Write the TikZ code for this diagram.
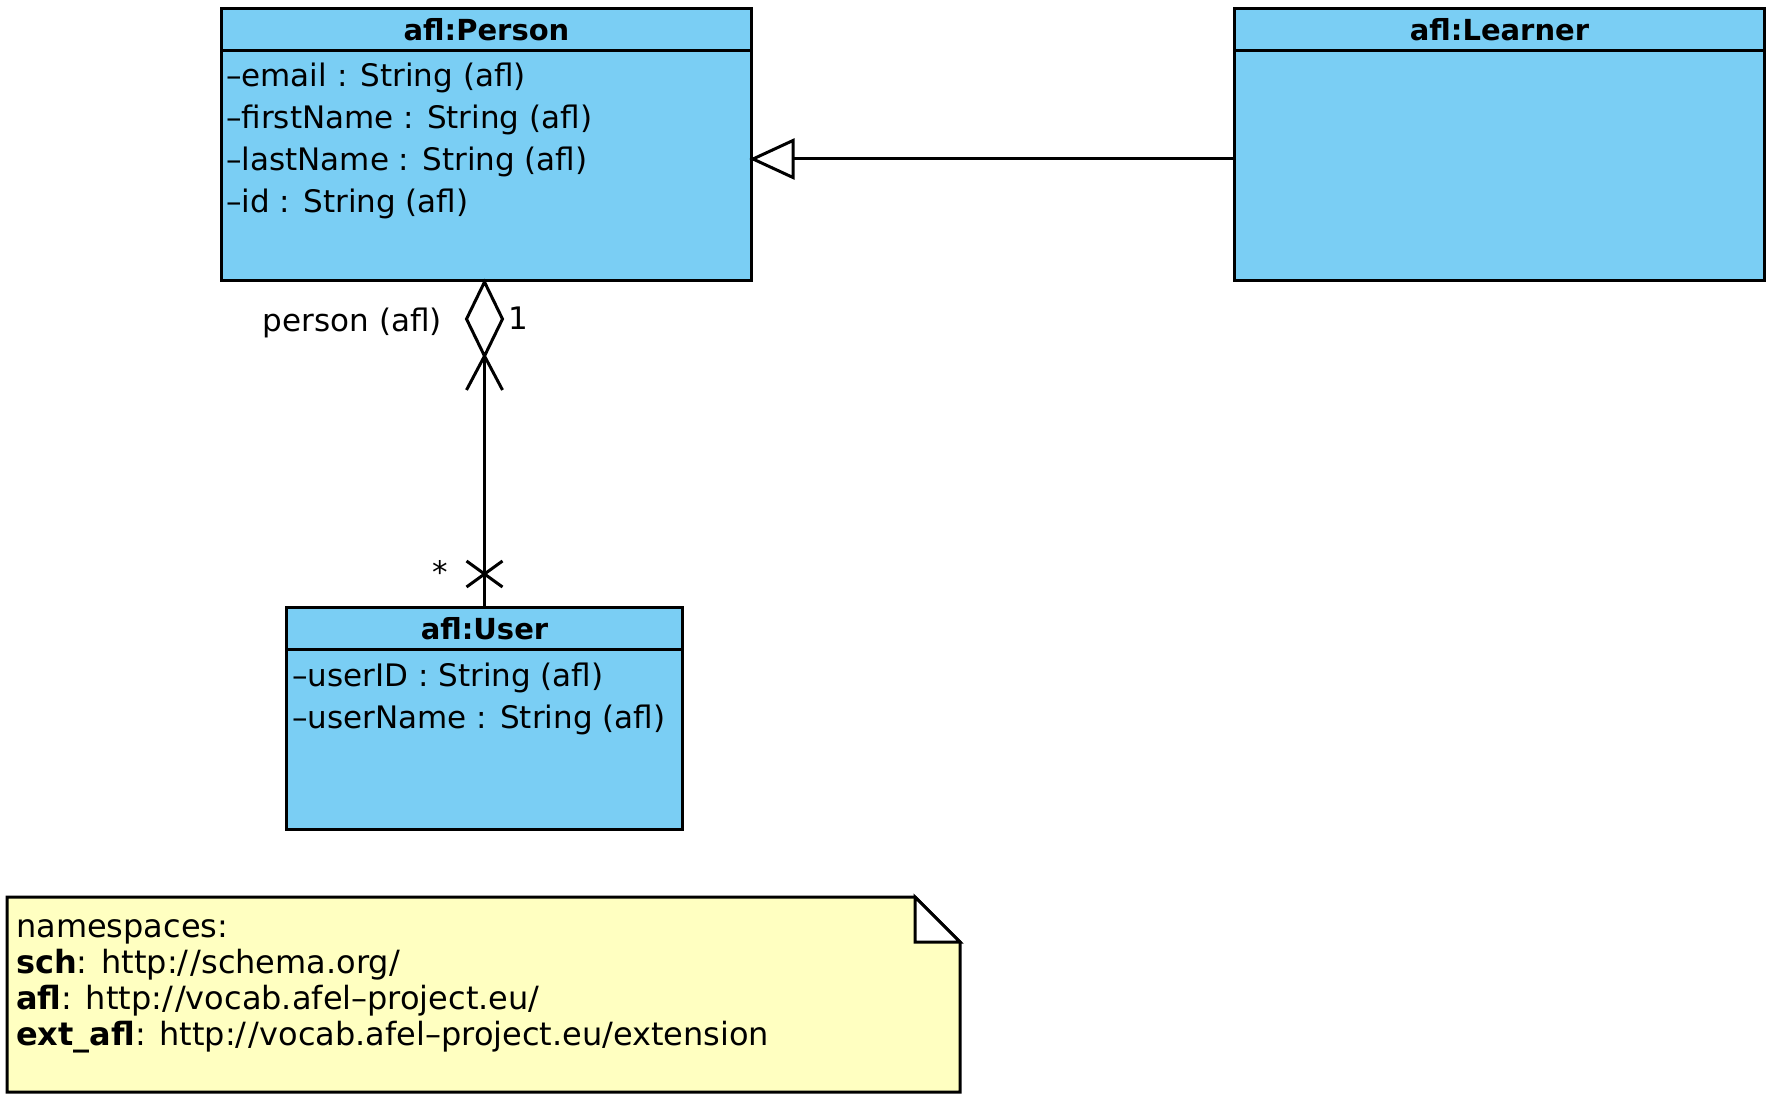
\documentclass[tikz,border=0pt]{standalone}
\usepackage{fontspec}
\setmainfont{DejaVu Sans}
\usepackage{xcolor}
\definecolor{umlClass}{HTML}{7ACEF4}
\definecolor{umlNote}{HTML}{FFFFC1}

\begin{document}
\begin{tikzpicture}[x=1pt, y=-1pt,
  classbox/.style={draw, fill=umlClass, line width=3pt, inner sep=0pt, anchor=north west},
  classhead/.style={draw, fill=umlClass, line width=3pt, inner sep=0pt, anchor=north,
    minimum height=42pt, text height=22pt, text depth=0pt,
    font=\fontsize{29}{35}\selectfont\bfseries},
  attr/.style={anchor=base west, inner sep=0pt, font=\fontsize{31}{37}\selectfont},
  notetext/.style={anchor=base west, inner sep=0pt, font=\fontsize{32}{38}\selectfont},
  lbl/.style={inner sep=0pt, font=\fontsize{31}{37}\selectfont},
  conn/.style={line width=3pt}]
  \useasboundingbox (0,0) rectangle (1776,1107);

  % classes
  \node[classbox, minimum width=530pt, minimum height=272pt] (person) at (220,7) {};
  \node[classhead, minimum width=530pt] (personhead) at (person.north) {afl:Person};
  \node[attr] (pemail) at (226,87) {\textendash email : String (afl)};
  \node[attr] (pfirst) at (226,129) {\textendash firstName : String (afl)};
  \node[attr] (plast) at (226,171) {\textendash lastName : String (afl)};
  \node[attr] (pid) at (226,213) {\textendash id : String (afl)};

  \node[classbox, minimum width=530pt, minimum height=272pt] (learner) at (1233,7) {};
  \node[classhead, minimum width=530pt] (learnerhead) at (learner.north) {afl:Learner};

  \node[classbox, minimum width=396pt, minimum height=222pt] (user) at (285,606) {};
  \node[classhead, minimum width=396pt] (userhead) at (user.north) {afl:User};
  \node[attr] (uid) at (292,686) {\textendash userID : String (afl)};
  \node[attr] (uname) at (292,728) {\textendash userName : String (afl)};

  % generalization
  \coordinate (genlvl) at (0,159);
  \draw[conn] (learner.west |- genlvl) -- (person.east |- genlvl);
  \filldraw[conn, fill=white] (person.east |- genlvl) -- ++(40,-18.5) -- ++(0,37) -- cycle;

  % aggregation
  \path (user.north |- person.south) ++(0,74) coordinate (aggtip);
  \coordinate (aggx) at ([yshift=32pt]user.north);
  \draw[conn] (user.north) -- (aggtip);
  \filldraw[conn, fill=white] (user.north |- person.south) -- ++(-18,37) -- ++(18,37) -- ++(18,-37) -- cycle;
  \draw[conn] (aggtip) ++(-18,34) -- (aggtip) -- ++(18,34);
  \draw[conn] (aggx) ++(-18,-13) -- ++(36,26);
  \draw[conn] (aggx) ++(-18,13) -- ++(36,-26);
  \node[lbl, anchor=base east] (rolelbl) at (442,331) {person (afl)};
  \node[lbl, anchor=base] (multone) at (518,329) {1};
  \node[lbl, anchor=base] (multmany) at (440,583) {*};

  % note
  \filldraw[conn, fill=umlNote] (7,897) -- (915,897) -- (960,942) -- (960,1092) -- (7,1092) -- cycle;
  \filldraw[conn, fill=white] (915,897) -- (915,942) -- (960,942) -- cycle;
  \node[notetext] (ns) at (16,937) {namespaces:};
  \node[notetext] (nssch) at (16,973) {\textbf{sch}: http:/\kern2pt/schema.org/};
  \node[notetext] (nsafl) at (16,1009) {\textbf{afl}: http:/\kern2pt/vocab.afel\textendash project.eu/};
  \node[notetext] (nsext) at (16,1045) {\textbf{ext\_afl}: http:/\kern2pt/vocab.afel\textendash project.eu/extension};
\end{tikzpicture}
\end{document}
